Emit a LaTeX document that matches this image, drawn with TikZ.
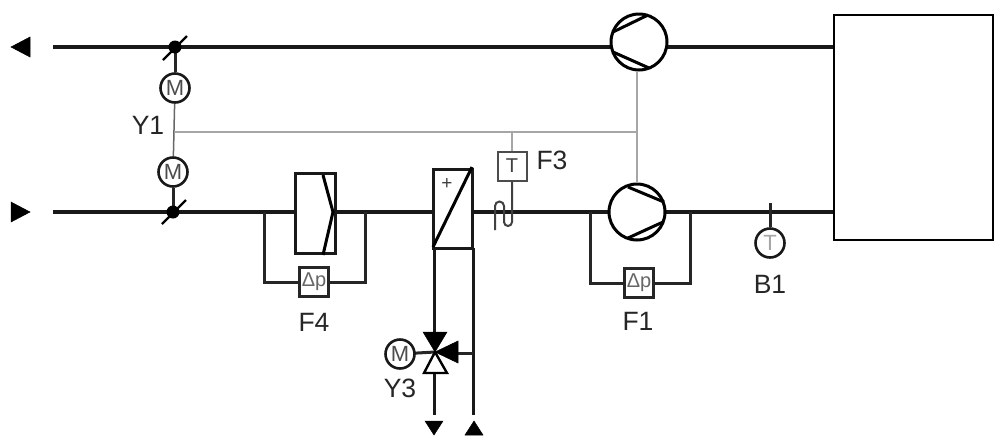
\documentclass[tikz,border=0pt]{standalone}
\usepackage{fontspec}
\setmainfont{Liberation Sans}
\tikzset{
  pipe/.style={line width=4.6pt,black!90},
  branch/.style={line width=3pt,black!85},
  signal/.style={line width=1.1pt,black!35},
  ctl/.style={line width=1.5pt,black!60},
  motor/.style={circle,draw=black!90,line width=2.6pt,fill=white,minimum size=29pt,inner sep=0pt,font=\fontsize{22}{22}\selectfont,text=black!70},
  pumpc/.style={circle,draw=black,line width=3pt,fill=white,minimum size=56pt,inner sep=0pt},
  sensorbox/.style={rectangle,draw=black!85,line width=2.8pt,fill=white,minimum size=29pt,inner sep=0pt,text=black!60},
  tbox/.style={rectangle,draw=black!70,line width=2pt,fill=white,minimum size=29pt,inner sep=0pt,font=\fontsize{20}{20}\selectfont,text=black!75},
  lbl/.style={font=\fontsize{26.5}{26.5}\selectfont,text=black!85,inner sep=0pt},
  tri/.style={fill=black,draw=black,line width=0.5pt,line join=miter},
}
\begin{document}
\begin{tikzpicture}[x=1pt,y=-1pt]
\useasboundingbox (0,0) rectangle (998,440);
% free ends
\coordinate (tl) at (53,47);
\coordinate (bl) at (53,212);
\coordinate (pTin) at (612,47);
\coordinate (pTout) at (666,47);
\coordinate (boxT) at (834,47);
\coordinate (boxB) at (834,212);
\coordinate (pBin) at (610,212);
\coordinate (pBout) at (664,212);
\coordinate (filtL) at (295,212);
\coordinate (filtR) at (335,212);
\coordinate (coilL) at (434,212);
\coordinate (coilR) at (472,212);
\coordinate (dT) at (175,47);
\coordinate (dB) at (173,212);
\coordinate (sigJ) at (175,132);
\coordinate (sigT) at (512,132);
\coordinate (sigP) at (637,132);
\coordinate (byA) at (264.5,212);
\coordinate (byB) at (365,212);
\coordinate (byC) at (590,212);
\coordinate (byD) at (690,212);
\coordinate (valve) at (435,352);
% pipes
\draw[pipe] (tl) -- (pTin);
\draw[pipe] (pTout) -- (boxT);
\draw[pipe] (bl) -- (filtL);
\draw[pipe] (filtR) -- (coilL);
\draw[pipe] (coilR) -- (pBin);
\draw[pipe] (pBout) -- (boxB);
% signal lines
\draw[signal] (sigJ) -- (sigP);
\draw[signal] (sigT) -- (512,151);
% nodes
\node[pumpc] (pumpT) at (639,42) {};
\node[pumpc] (pumpB) at (637,212) {};
\draw[signal] (pumpT) ++(-2,29) -- (sigP) -- (637,183);
\draw[line width=3pt] (613,32) -- (648,15);
\draw[line width=3pt] (613,52) -- (649,68);
\draw[line width=3pt] (628,187) -- (664,202);
\draw[line width=3pt] (628,238) -- (663,222);
% main box
\node[draw=black,line width=2.8pt,minimum width=159pt,minimum height=225pt,inner sep=0pt] (ahu) at (913.5,127.5) {};
% arrows ends
\fill[tri] (30,37) -- (30,57) -- (11,47) -- cycle;
\fill[tri] (11,202) -- (11,222) -- (30,212) -- cycle;
% dampers and motors
\node[motor] (mT) at (175,88) {M};
\node[motor] (mB) at (173,172) {M};
\draw[branch] (dT) -- (mT);
\draw[branch] (dB) -- (mB);
\draw[ctl] (mT) -- (mB);
\fill[black] (dT) circle (6.5pt);
\fill[black] (dB) circle (6.5pt);
\draw[line width=2.4pt] (163,60) -- (187,36);
\draw[line width=2.4pt] (162,224) -- (186,200);
\node[lbl] (y1) at (148,125) {Y1};
% filter
\node[draw=black!90,line width=3pt,fill=white,minimum width=40pt,minimum height=80pt,inner sep=0pt] (filter) at (315.5,213) {};
\draw[line width=3pt] (323,175) -- (333,212) -- (323,255);
% bypass F4
\draw[branch] (byA) |- (314,282);
\draw[branch] (byB) |- (314,282);
\node[sensorbox,font=\fontsize{20}{20}\selectfont] (dp4) at (314,282) {Δp};
\node[lbl] (f4) at (314,322) {F4};
% coil
\node[draw=black!90,line width=3pt,fill=white,minimum width=38.5pt,minimum height=79pt,inner sep=0pt] (coil) at (453,208.5) {};
\draw[line width=3pt] (433,247) -- (472,167);
\node[font=\fontsize{19}{19}\selectfont,text=black!75,inner sep=0pt] (plus) at (447,184) {+};
% sensor F3
\node[tbox] (f3box) at (512,166) {T};
\draw[line width=2pt,black!75] (495,230) -- (495,206) arc[start angle=180,end angle=0,radius=4.5pt] -- (504,222) arc[start angle=180,end angle=360,radius=4pt] -- (f3box.south);
\node[lbl] (f3) at (552,160) {F3};
% pump bypass F1
\draw[branch] (byC) |- (639,283);
\draw[branch] (byD) |- (639,283);
\node[sensorbox,font=\fontsize{20}{20}\selectfont] (dp1) at (639,283) {Δp};
\node[lbl] (f1) at (638,321) {F1};
% B1
\node[motor,text=black!35] (b1c) at (770,243) {T};
\coordinate (b1t) at (770,203);
\draw[branch] (b1t) -- (b1c);
\node[lbl] (b1) at (770,284) {B1};
% valve
\coordinate (dn) at (434,415);
\coordinate (up) at (473,415);
\coordinate (coilBL) at (434,248);
\coordinate (coilBR) at (473,248);
\coordinate (ret) at (473,353);
\draw[line width=3pt,black!90] (coilBL) -- (434,332);
\draw[line width=3pt,black!90] (434,373) -- (dn);
\draw[line width=3pt,black!90] (coilBR) -- (up);
\draw[branch] (458,353) -- (ret);
\draw[branch] (400,354) -- (valve);
\node[motor] (m3) at (400,354) {M};
\draw[line width=2.4pt,fill=white] (valve) -- (424,373) -- (447,373) -- cycle;
\fill[tri] (423,332) -- (447,332) -- (valve) -- cycle;
\fill[tri] (458,341) -- (458,363) -- (valve) -- cycle;
\node[lbl] (y3) at (400,388) {Y3};
\fill[tri] (425,421) -- (443,421) -- (434,435) -- cycle;
\fill[tri] (465,435) -- (483,435) -- (474,421) -- cycle;
\end{tikzpicture}
\end{document}
